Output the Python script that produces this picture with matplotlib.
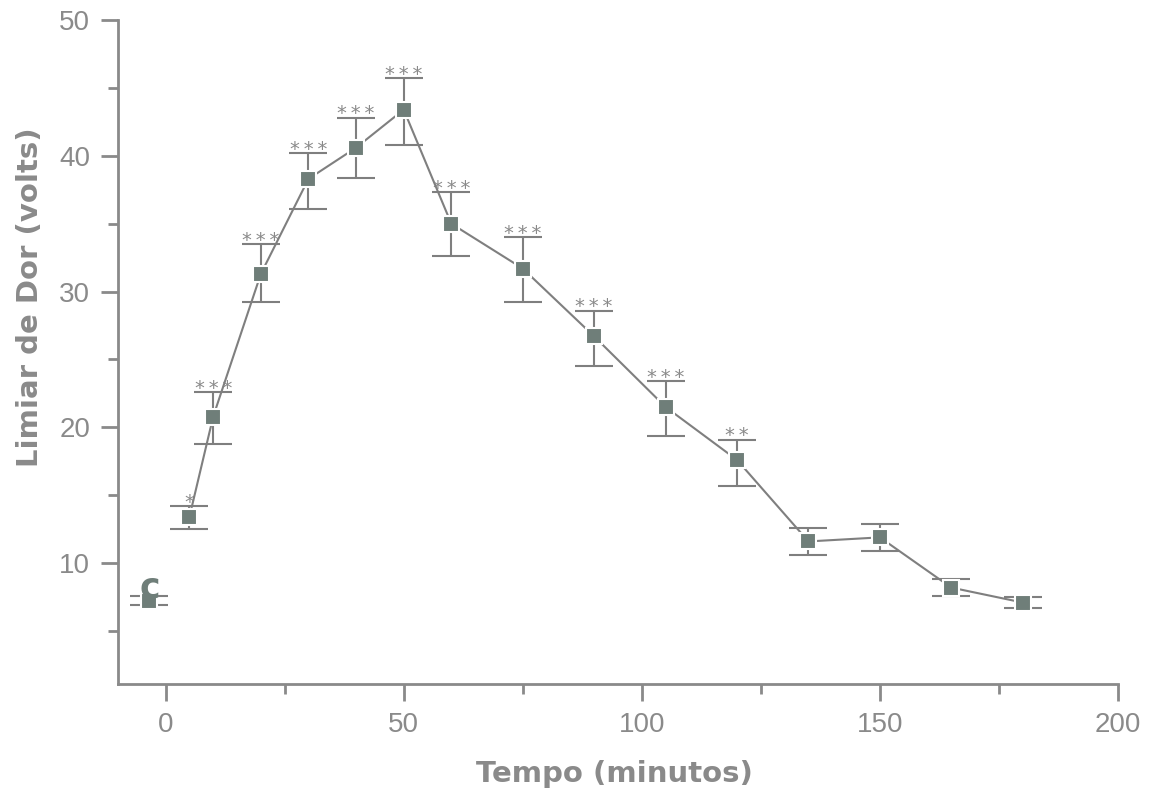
import matplotlib
matplotlib.use("Agg")
import matplotlib.pyplot as plt
from matplotlib.ticker import MultipleLocator

# Data
time_min = [5, 10, 20, 30, 40, 50, 60, 75, 90, 105, 120, 135, 150, 165, 180]
threshold = [13.4, 20.8, 31.3, 38.3, 40.6, 43.4, 35.0, 31.7, 26.7, 21.5, 17.6, 11.6, 11.9, 8.2, 7.1]
err_up = [0.8, 1.8, 2.2, 1.9, 2.2, 2.3, 2.3, 2.3, 1.9, 1.9, 1.5, 1.0, 1.0, 0.6, 0.4]
err_dn = [0.9, 2.0, 2.1, 2.2, 2.2, 2.6, 2.4, 2.5, 2.2, 2.1, 1.9, 1.0, 1.0, 0.6, 0.4]
signif = ["*", "***", "***", "***", "***", "***", "***", "***", "***", "***", "**", "", "", "", ""]
control_x = [-3.5]
control_y = [7.25]
control_err = [0.35]
control_label = "c"

GRAY = "#8a8a8a"
LINE = "#7f7f7f"
MARK = "#6f7e79"

fig = plt.figure(figsize=(11.52, 7.95), dpi=100)
ax = fig.add_axes([0.1024, 0.1396, 0.8681, 0.8352])

ax.errorbar(time_min, threshold, yerr=[err_dn, err_up], fmt="s-", color=LINE,
            ecolor=LINE, elinewidth=1.5, capsize=14, capthick=1.5, lw=1.5,
            markersize=11, markerfacecolor=MARK, markeredgecolor="white",
            markeredgewidth=1.5, zorder=3)
ax.errorbar(control_x, control_y, yerr=control_err, fmt="s", color=LINE,
            ecolor=LINE, elinewidth=1.5, capsize=14, capthick=1.5,
            markersize=11, markerfacecolor=MARK, markeredgecolor="white",
            markeredgewidth=1.5, zorder=3)

for x, y, eu, s in zip(time_min, threshold, err_up, signif):
    if s:
        ax.annotate("\u2009".join(s), (x, y + eu), xytext=(0, -4), textcoords="offset points",
                    ha="center", va="bottom", fontsize=14, color=GRAY,
                    family="DejaVu Sans")

ax.annotate(control_label, (control_x[0], control_y[0] + control_err[0]), xytext=(1, -6),
            textcoords="offset points", ha="center", va="bottom", fontsize=25,
            fontweight="bold", color=MARK, family="DejaVu Sans", zorder=4)

ax.set_xlim(-10, 200)
ax.set_ylim(1.1, 50)
ax.xaxis.set_major_locator(MultipleLocator(50))
ax.xaxis.set_minor_locator(MultipleLocator(25))
ax.yaxis.set_major_locator(MultipleLocator(10))
ax.yaxis.set_minor_locator(MultipleLocator(5))

for side in ["top", "right"]:
    ax.spines[side].set_visible(False)
for side in ["left", "bottom"]:
    ax.spines[side].set_color(GRAY)
    ax.spines[side].set_linewidth(2)

ax.tick_params(which="major", direction="out", length=12, width=2, color=GRAY,
               labelcolor=GRAY, labelsize=20, pad=8)
ax.tick_params(which="minor", direction="out", length=7, width=2, color=GRAY)
for lab in ax.get_xticklabels() + ax.get_yticklabels():
    lab.set_family("Liberation Sans")

fig.text(614 / 1152, 1 - 774 / 795, "Tempo (minutos)", fontsize=21, fontweight="bold",
         color=GRAY, family="DejaVu Sans", ha="center", va="center")
fig.text(30 / 1152, 1 - 297 / 795, "Limiar de Dor (volts)", fontsize=21, fontweight="bold",
         color=GRAY, family="DejaVu Sans", ha="center", va="center", rotation=90)

fig.savefig("out.png", dpi=100, facecolor="white")
